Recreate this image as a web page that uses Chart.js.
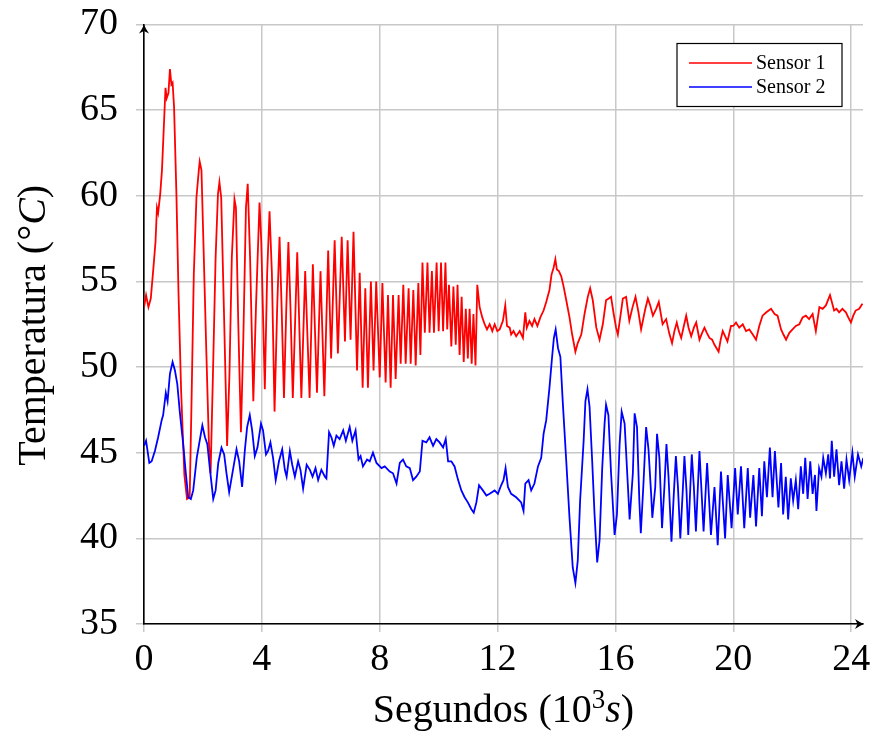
<!DOCTYPE html>
<html>
<head>
<meta charset="utf-8">
<script src="https://cdn.jsdelivr.net/npm/chart.js@4.4.1/dist/chart.umd.min.js"></script>
<style>
    html, body { margin: 0; padding: 0; background: #fff; }
    #wrap { width: 874px; height: 747px; }
</style>
</head>
<body>
<div id="wrap"><canvas id="chart"></canvas></div>
<script>
// time in 10^3 s, temperature in °C
const sensor1Time = [
    0.00, 0.07, 0.15, 0.23, 0.31, 0.39, 0.44, 0.48, 0.55, 0.61, 0.66, 0.73, 0.77, 0.83, 0.88, 0.93, 0.97, 1.02, 1.10, 1.17,
    1.26, 1.37, 1.46, 1.55, 1.61, 1.69, 1.78, 1.86, 1.89, 1.95, 2.03, 2.12, 2.20, 2.26, 2.34, 2.43, 2.51, 2.56, 2.62, 2.71,
    2.82, 2.90, 2.98, 3.07, 3.12, 3.20, 3.29, 3.37, 3.46, 3.52, 3.60, 3.71, 3.80, 3.92, 3.98, 4.10, 4.18, 4.26, 4.34, 4.43,
    4.52, 4.60, 4.67, 4.75, 4.83, 4.90, 4.97, 5.05, 5.20, 5.34, 5.47, 5.62, 5.73, 5.87, 5.99, 6.12, 6.25, 6.35, 6.47, 6.58,
    6.71, 6.82, 6.91, 7.01, 7.11, 7.23, 7.32, 7.42, 7.51, 7.60, 7.70, 7.79, 7.88, 8.00, 8.09, 8.20, 8.28, 8.37, 8.45, 8.54,
    8.64, 8.71, 8.80, 8.88, 8.98, 9.05, 9.14, 9.22, 9.31, 9.38, 9.45, 9.53, 9.62, 9.69, 9.77, 9.84, 9.93, 10.00, 10.08, 10.15,
    10.23, 10.29, 10.35, 10.43, 10.50, 10.58, 10.64, 10.71, 10.78, 10.85, 10.92, 10.99, 11.05, 11.12, 11.18, 11.25, 11.31, 11.39, 11.48, 11.56,
    11.64, 11.73, 11.82, 11.90, 11.99, 12.07, 12.18, 12.26, 12.32, 12.41, 12.46, 12.54, 12.63, 12.75, 12.86, 12.94, 12.99, 13.08, 13.17, 13.25,
    13.35, 13.45, 13.56, 13.65, 13.76, 13.83, 13.90, 13.96, 14.01, 14.08, 14.16, 14.24, 14.33, 14.44, 14.53, 14.64, 14.72, 14.84, 14.95, 15.06,
    15.14, 15.23, 15.35, 15.46, 15.57, 15.68, 15.77, 15.85, 15.93, 16.02, 16.08, 16.17, 16.25, 16.36, 16.47, 16.58, 16.68, 16.78, 16.87, 17.00,
    17.10, 17.18, 17.27, 17.38, 17.47, 17.60, 17.72, 17.82, 17.92, 18.00, 18.08, 18.15, 18.23, 18.32, 18.40, 18.48, 18.57, 18.66, 18.74, 18.85,
    18.94, 19.02, 19.10, 19.19, 19.28, 19.36, 19.50, 19.57, 19.64, 19.72, 19.80, 19.92, 20.00, 20.09, 20.20, 20.32, 20.43, 20.54, 20.66, 20.77,
    20.88, 20.99, 21.12, 21.28, 21.40, 21.50, 21.62, 21.70, 21.79, 21.90, 22.01, 22.12, 22.24, 22.35, 22.46, 22.57, 22.69, 22.80, 22.92, 23.03,
    23.14, 23.28, 23.42, 23.50, 23.59, 23.70, 23.82, 23.90, 23.99, 24.07, 24.15, 24.27, 24.38
];
const sensor1Temp = [
    53.5, 54.2, 53.5, 54.0, 55.6, 57.3, 59.3, 59.0, 60.1, 61.5, 63.5, 66.3, 65.7, 66.0, 67.4, 66.5, 66.6, 65.2, 60.1, 54.4,
    48.6, 43.7, 42.3, 42.4, 47.7, 55.4, 59.9, 61.5, 62.0, 61.5, 56.4, 50.6, 45.7, 43.8, 49.6, 56.4, 60.1, 60.8, 59.9, 53.5,
    45.4, 49.6, 56.4, 59.8, 59.3, 52.5, 46.2, 51.6, 59.3, 60.7, 56.4, 48.0, 53.5, 59.6, 57.3, 48.7, 55.5, 59.1, 55.5, 47.4,
    53.5, 57.6, 53.5, 48.2, 53.5, 57.3, 53.5, 48.2, 56.7, 48.2, 55.6, 48.2, 56.0, 48.5, 55.6, 48.3, 56.8, 50.5, 57.4, 50.8,
    57.6, 51.5, 57.4, 51.6, 57.9, 49.8, 55.5, 48.8, 54.6, 48.8, 55.0, 49.8, 55.0, 49.4, 54.9, 49.1, 54.2, 48.8, 54.2, 49.3,
    54.2, 50.2, 54.8, 50.2, 54.6, 50.2, 54.5, 50.1, 54.9, 50.7, 56.1, 52.0, 56.1, 52.0, 55.6, 52.0, 56.1, 52.1, 56.1, 52.1,
    56.1, 52.2, 54.8, 51.2, 54.7, 51.3, 54.8, 50.7, 54.1, 50.3, 53.4, 50.5, 53.4, 50.2, 53.1, 50.1, 54.8, 53.5, 52.9, 52.5,
    52.2, 52.5, 52.1, 52.5, 52.1, 52.2, 52.7, 53.6, 52.4, 52.3, 51.9, 52.1, 51.8, 52.1, 51.7, 53.2, 52.3, 52.7, 52.4, 52.8,
    52.4, 52.9, 53.3, 53.8, 54.5, 55.4, 55.8, 56.3, 55.7, 55.6, 55.3, 54.7, 53.9, 52.9, 51.9, 50.9, 51.4, 51.9, 53.1, 54.1,
    54.6, 53.9, 52.3, 51.6, 52.5, 53.9, 54.0, 54.1, 53.2, 52.3, 51.9, 53.0, 54.0, 54.1, 52.7, 53.5, 54.1, 53.2, 52.2, 53.3,
    54.0, 53.6, 53.0, 53.4, 53.8, 52.5, 52.8, 52.0, 51.4, 52.1, 52.6, 52.1, 51.7, 52.4, 53.0, 52.3, 51.8, 52.3, 52.6, 51.6,
    52.0, 52.3, 52.0, 51.7, 51.6, 51.3, 50.9, 51.6, 52.1, 51.8, 51.5, 52.4, 52.4, 52.6, 52.3, 52.5, 52.1, 52.2, 51.9, 51.6,
    52.4, 53.0, 53.2, 53.4, 53.1, 53.0, 52.2, 51.9, 51.6, 52.0, 52.2, 52.4, 52.5, 52.9, 53.0, 52.8, 53.1, 52.1, 53.5, 53.4,
    53.6, 54.2, 53.3, 53.4, 53.2, 53.4, 53.2, 52.9, 52.6, 53.0, 53.3, 53.4, 53.7
];

const sensor2Time = [
    0.00, 0.07, 0.18, 0.26, 0.37, 0.48, 0.60, 0.65, 0.74, 0.80, 0.88, 0.97, 1.05, 1.13, 1.22, 1.33, 1.42, 1.50, 1.59, 1.67,
    1.79, 1.87, 1.98, 2.07, 2.15, 2.24, 2.35, 2.43, 2.52, 2.63, 2.72, 2.80, 2.89, 3.03, 3.14, 3.23, 3.33, 3.42, 3.50, 3.59,
    3.67, 3.76, 3.85, 3.97, 4.04, 4.14, 4.21, 4.29, 4.38, 4.47, 4.58, 4.69, 4.78, 4.84, 4.95, 5.03, 5.12, 5.23, 5.31, 5.40,
    5.52, 5.63, 5.72, 5.82, 5.91, 6.02, 6.14, 6.19, 6.28, 6.36, 6.44, 6.53, 6.64, 6.76, 6.85, 6.98, 7.07, 7.18, 7.28, 7.35,
    7.43, 7.57, 7.66, 7.77, 7.89, 8.06, 8.17, 8.34, 8.45, 8.57, 8.68, 8.79, 8.90, 9.02, 9.13, 9.24, 9.36, 9.45, 9.58, 9.69,
    9.81, 9.92, 10.03, 10.15, 10.24, 10.32, 10.43, 10.54, 10.66, 10.77, 10.88, 10.99, 11.11, 11.19, 11.28, 11.37, 11.50, 11.62, 11.73, 11.90,
    12.01, 12.12, 12.20, 12.27, 12.35, 12.46, 12.63, 12.80, 12.88, 12.94, 13.05, 13.14, 13.25, 13.37, 13.48, 13.56, 13.65, 13.76, 13.85, 13.91,
    13.97, 14.05, 14.13, 14.21, 14.33, 14.44, 14.55, 14.64, 14.72, 14.80, 14.92, 14.98, 15.05, 15.12, 15.21, 15.29, 15.38, 15.46, 15.55, 15.63,
    15.68, 15.76, 15.85, 15.97, 16.05, 16.14, 16.21, 16.31, 16.42, 16.48, 16.59, 16.65, 16.73, 16.81, 16.86, 16.95, 17.04, 17.12, 17.21, 17.25,
    17.35, 17.41, 17.49, 17.58, 17.66, 17.73, 17.80, 17.90, 17.98, 18.05, 18.12, 18.20, 18.29, 18.34, 18.41, 18.47, 18.54, 18.59, 18.66, 18.73,
    18.85, 18.99, 19.11, 19.24, 19.36, 19.47, 19.58, 19.72, 19.81, 19.94, 20.06, 20.15, 20.26, 20.37, 20.49, 20.57, 20.68, 20.77, 20.88, 20.97,
    21.05, 21.14, 21.24, 21.33, 21.41, 21.53, 21.62, 21.69, 21.78, 21.86, 21.95, 22.03, 22.12, 22.20, 22.29, 22.37, 22.44, 22.52, 22.61, 22.69,
    22.77, 22.82, 22.91, 22.99, 23.05, 23.14, 23.22, 23.28, 23.34, 23.42, 23.50, 23.59, 23.67, 23.76, 23.84, 23.93, 24.04, 24.12, 24.23, 24.34,
    24.41
];
const sensor2Temp = [
    45.4, 45.7, 44.4, 44.5, 45.1, 45.9, 46.9, 47.2, 48.5, 48.0, 49.6, 50.3, 49.8, 49.0, 47.3, 45.5, 43.8, 42.4, 42.3, 42.8,
    44.7, 45.5, 46.6, 45.9, 45.5, 44.0, 42.3, 42.8, 44.4, 45.3, 44.9, 43.8, 42.7, 44.1, 45.2, 44.5, 43.0, 45.1, 46.5, 47.2,
    46.3, 44.8, 45.3, 46.7, 46.3, 44.9, 45.1, 45.6, 44.7, 43.4, 44.5, 45.2, 44.0, 43.6, 45.1, 44.3, 43.6, 44.5, 44.0, 42.9,
    44.3, 44.0, 43.6, 44.1, 43.4, 44.0, 43.6, 43.5, 46.2, 45.9, 45.4, 46.0, 45.8, 46.3, 45.7, 46.5, 45.7, 46.3, 44.6, 44.8,
    44.2, 44.6, 44.5, 45.0, 44.4, 44.1, 44.2, 43.9, 43.8, 43.2, 44.4, 44.6, 44.2, 44.1, 43.4, 43.6, 43.9, 45.7, 45.6, 45.9,
    45.4, 45.8, 45.6, 45.3, 45.8, 44.5, 44.5, 44.2, 43.4, 42.8, 42.4, 42.1, 41.7, 41.5, 42.1, 43.1, 42.8, 42.5, 42.6, 42.8,
    42.6, 43.1, 43.4, 44.1, 43.0, 42.6, 42.4, 42.1, 41.6, 43.2, 43.4, 42.8, 43.2, 44.2, 44.7, 46.1, 46.9, 48.8, 50.6, 51.7,
    52.2, 51.1, 50.6, 48.0, 44.5, 41.2, 38.3, 37.4, 38.7, 42.2, 45.7, 48.0, 48.7, 47.7, 44.5, 41.4, 38.6, 39.9, 44.1, 46.7,
    47.8, 47.2, 43.8, 40.2, 41.4, 45.5, 47.4, 46.7, 43.1, 41.1, 43.8, 47.3, 46.5, 42.2, 40.3, 43.2, 46.5, 45.2, 42.6, 41.2,
    43.0, 46.1, 44.7, 40.6, 43.0, 45.5, 43.6, 39.8, 42.6, 44.8, 43.0, 40.0, 43.0, 44.8, 42.8, 40.2, 43.0, 44.9, 43.0, 40.4,
    45.1, 40.4, 44.4, 40.2, 43.0, 39.6, 43.9, 40.0, 43.7, 40.6, 44.1, 41.4, 44.2, 40.6, 44.1, 41.2, 43.7, 40.7, 44.1, 41.3,
    44.5, 42.4, 45.3, 42.4, 45.1, 41.8, 44.4, 41.4, 43.6, 41.1, 43.5, 42.2, 43.4, 41.7, 44.2, 42.6, 44.7, 42.3, 44.5, 42.6,
    43.7, 41.6, 44.1, 43.6, 44.7, 43.8, 44.9, 43.5, 45.7, 43.6, 45.2, 43.1, 44.5, 42.9, 44.6, 43.4, 45.0, 43.6, 44.9, 44.2,
    44.7
];

const seriesNames = ['Sensor 1', 'Sensor 2'];
const seriesColors = ['#ff0000', '#0000ff'];

const SERIF = "'Liberation Serif', 'Times New Roman', serif";

function toPoints(xs, ys) {
    return xs.map((x, i) => ({ x: x, y: ys[i] }));
}

// draws a run of text pieces with their own fonts, centred on x
function drawRich(ctx, parts, x, y) {
    let total = 0;
    parts.forEach(p => {
        ctx.font = p.font;
        p.w = ctx.measureText(p.text).width;
        total += p.w;
    });
    let cx = x - total / 2;
    ctx.textAlign = 'left';
    ctx.textBaseline = 'alphabetic';
    parts.forEach(p => {
        ctx.font = p.font;
        ctx.fillText(p.text, cx, y + (p.dy || 0));
        cx += p.w;
    });
}

function arrowTip(ctx, x, y, angle) {
    ctx.save();
    ctx.translate(x, y);
    ctx.rotate(angle);
    ctx.beginPath();
    ctx.moveTo(0, 0);
    ctx.quadraticCurveTo(-4, -1.5, -9, -5);
    ctx.lineTo(-6.5, 0);
    ctx.lineTo(-9, 5);
    ctx.quadraticCurveTo(-4, 1.5, 0, 0);
    ctx.closePath();
    ctx.fillStyle = '#000';
    ctx.fill();
    ctx.restore();
}

// axis titles (with italic parts), legend box and axis arrows
const decorations = {
    id: 'decorations',
    afterDraw(chart) {
        const ctx = chart.ctx;
        const area = chart.chartArea;
        ctx.save();
        ctx.fillStyle = '#000';

        // x title
        drawRich(ctx, [
            { text: 'Segundos (10', font: `40px ${SERIF}` },
            { text: '3', font: `27px ${SERIF}`, dy: -14 },
            { text: 's', font: `italic 40px ${SERIF}` },
            { text: ')', font: `40px ${SERIF}` }
        ], (area.left + area.right) / 2, 722);

        // y title
        ctx.save();
        ctx.translate(45, (area.top + area.bottom) / 2 + 1);
        ctx.rotate(-Math.PI / 2);
        drawRich(ctx, [
            { text: 'Temperatura (', font: `40px ${SERIF}` },
            { text: '°', font: `40px ${SERIF}` },
            { text: 'C', font: `italic 40px ${SERIF}` },
            { text: ')', font: `40px ${SERIF}` }
        ], 0, 0);
        ctx.restore();

        // arrows at the axis ends
        arrowTip(ctx, area.right + 1, area.bottom, 0);
        arrowTip(ctx, area.left, area.top, -Math.PI / 2);

        // legend
        const bw = 165, bh = 63;
        const bx = area.right - 21 - bw;
        const by = area.top + 19;
        ctx.fillStyle = '#fff';
        ctx.fillRect(bx, by, bw, bh);
        ctx.strokeStyle = '#000';
        ctx.lineWidth = 1.2;
        ctx.strokeRect(bx, by, bw, bh);
        ctx.font = `20px ${SERIF}`;
        ctx.textAlign = 'left';
        ctx.textBaseline = 'middle';
        seriesNames.forEach((name, i) => {
            const ly = by + 19.5 + i * 24;
            ctx.strokeStyle = seriesColors[i];
            ctx.lineWidth = 1.5;
            ctx.beginPath();
            ctx.moveTo(bx + 12, ly);
            ctx.lineTo(bx + 75, ly);
            ctx.stroke();
            ctx.fillStyle = '#000';
            ctx.fillText(name, bx + 79, ly + 1);
        });
        ctx.restore();
    }
};

const tickFont = { family: SERIF, size: 38 };
const gridStyle = { color: '#c8c8c8', lineWidth: 1.5, tickLength: 8 };

new Chart(document.getElementById('chart'), {
    type: 'line',
    data: {
        datasets: [
            {
                label: seriesNames[0],
                data: toPoints(sensor1Time, sensor1Temp),
                borderColor: seriesColors[0],
                borderWidth: 1.8,
                order: 1
            },
            {
                label: seriesNames[1],
                data: toPoints(sensor2Time, sensor2Temp),
                borderColor: seriesColors[1],
                borderWidth: 1.8,
                order: 0
            }
        ]
    },
    options: {
        responsive: true,
        maintainAspectRatio: false,
        animation: false,
        layout: { padding: { top: 24.5, right: 11, left: 0, bottom: 0 } },
        elements: { point: { radius: 0 }, line: { tension: 0 } },
        plugins: {
            legend: { display: false },
            tooltip: { enabled: false }
        },
        scales: {
            x: {
                type: 'linear',
                min: 0,
                max: 24.4,
                afterFit: (s) => { s.height = 123; s.paddingLeft = 0; s.paddingRight = 0; },
                ticks: { stepSize: 4, includeBounds: false, padding: 5, color: '#000', font: tickFont, maxRotation: 0 },
                grid: gridStyle,
                border: { color: '#000', width: 1.6 }
            },
            y: {
                min: 35,
                max: 70,
                afterFit: (s) => { s.width = 144; s.paddingTop = 0; s.paddingBottom = 0; },
                ticks: { stepSize: 5, padding: 18, color: '#000', font: tickFont },
                grid: gridStyle,
                border: { color: '#000', width: 1.6 }
            }
        }
    },
    plugins: [decorations]
});
</script>
</body>
</html>
